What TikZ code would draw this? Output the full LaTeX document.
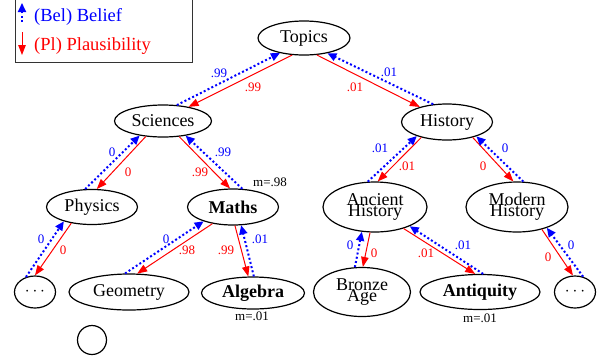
\documentclass[tikz,border=0pt]{standalone}
\usepackage{fontspec}
\setmainfont{Liberation Serif}
\usetikzlibrary{arrows.meta,shapes.geometric}
\definecolor{belblue}{RGB}{0,0,255}
\definecolor{plred}{RGB}{255,0,0}
\tikzset{
  nd/.style={ellipse,draw,line width=1.2pt,inner sep=0pt,font=\fontsize{18}{12}\selectfont,align=center},
  bel/.style={draw=belblue,line width=2pt,dash pattern=on 2pt off 2.3pt,-{Triangle[length=9pt,width=8pt,fill=belblue]}},
  pl/.style={draw=plred,line width=1pt,-{Triangle[length=10pt,width=7.5pt,fill=plred]}},
  bl/.style={text=belblue,font=\fontsize{13}{13}\selectfont,inner sep=0pt},
  rl/.style={text=plred,font=\fontsize{13}{13}\selectfont,inner sep=0pt},
  ml/.style={text=black,font=\fontsize{13}{13}\selectfont,inner sep=0pt}
}
\begin{document}
\begin{tikzpicture}[x=1pt,y=-1pt]
\useasboundingbox (0,0) rectangle (607,360);
% legend
\draw[line width=0.8pt,black!80] (15,-5) rectangle (192,62);
\coordinate (lb1) at (22,22); \coordinate (lb2) at (22,3);
\coordinate (lr1) at (22,32); \coordinate (lr2) at (22,55);
\draw[bel] (lb1) -- (lb2);
\draw[pl] (lr1) -- (lr2);
\node[anchor=west,text=belblue,font=\fontsize{18.5}{18.5}\selectfont,inner sep=0pt] (legb) at (34,17) {(Bel) Belief};
\node[anchor=west,text=plred,font=\fontsize{18.5}{18.5}\selectfont,inner sep=0pt] (legr) at (34,46) {(Pl) Plausibility};
% nodes
\node[nd,minimum width=92pt,minimum height=34pt] (top) at (304,38) {Topics};
\node[nd,minimum width=97pt,minimum height=32pt] (sci) at (163,121) {Sciences};
\node[nd,minimum width=91pt,minimum height=36pt] (his) at (447,122) {History};
\node[nd,minimum width=91pt,minimum height=35pt] (phy) at (92,207) {Physics};
\node[nd,minimum width=91pt,minimum height=36pt] (mat) at (233,207) {\textbf{Maths}};
\node[nd,minimum width=104pt,minimum height=50pt] (anc) at (375,207) {Ancient\\[-2pt]History};
\node[nd,minimum width=102pt,minimum height=50pt] (mod) at (517,207) {Modern\\[-2pt]History};
\node[nd,minimum width=41pt,minimum height=32pt] (ld) at (35,292) {$\cdots$};
\node[nd,minimum width=120pt,minimum height=36pt] (geo) at (129,292) {Geometry};
\node[nd,minimum width=103pt,minimum height=32pt] (alg) at (253,293) {\textbf{Algebra}};
\node[nd,minimum width=97pt,minimum height=49pt] (bro) at (362,292) {Bronze\\[-2pt]Age};
\node[nd,minimum width=120pt,minimum height=35pt] (ant) at (480,292) {\textbf{Antiquity}};
\node[nd,minimum width=41pt,minimum height=32pt] (rd) at (575,292) {$\cdots$};
\node[circle,draw,line width=1.2pt,minimum size=29pt,inner sep=0pt] (circ) at (92,340) {};
% mass labels
\node[ml] (m1) at (270,182) {m=.98};
\node[ml] (m2) at (252,316) {m=.01};
\node[ml] (m3) at (480,318) {m=.01};
% edges
\draw[bel] (sci.49) -- (top.212);
\draw[pl] (top.235) -- (sci.29);
\node[bl] at (219,73) {.99}; \node[rl] at (253,87) {.99};

\draw[pl] (top.307) -- (his.151);
\draw[bel] (his.128) -- (top.327);
\node[bl] at (389,72) {.01}; \node[rl] at (355,87) {.01};

\draw[bel] (phy.111) -- (sci.212);
\draw[pl] (sci.222) -- (phy.75);
\node[bl] at (112,152) {0}; \node[rl] at (128,172) {0};

\draw[pl] (sci.316) -- (mat.99);
\draw[bel] (mat.63) -- (sci.327);
\node[bl] at (223,152) {.99}; \node[rl] at (200,172) {.99};

\draw[bel] (anc.106) -- (his.205);
\draw[pl] (his.211) -- (anc.84);
\node[bl] at (380,148) {.01}; \node[rl] at (407,166) {.01};

\draw[pl] (his.329) -- (mod.98);
\draw[bel] (mod.76) -- (his.334);
\node[bl] at (505,148) {0}; \node[rl] at (483,166) {0};

\draw[bel] (ld.121) -- (phy.207);
\draw[pl] (phy.218) -- (ld.90);
\node[bl] at (41,239) {0}; \node[rl] at (63,250) {0};

\draw[bel] (geo.102) -- (mat.206);
\draw[pl] (mat.219) -- (geo.66);
\node[bl] at (166,239) {0}; \node[rl] at (187,250) {.98};

\draw[pl] (mat.276) -- (alg.106);
\draw[bel] (alg.87) -- (mat.294);
\node[bl] at (260,239) {.01}; \node[rl] at (226,250) {.99};

\draw[bel] (bro.106) -- (anc.242);
\draw[pl] (anc.259) -- (bro.88);
\node[bl] at (350,245) {0}; \node[rl] at (374,253) {0};

\draw[pl] (anc.323) -- (ant.105);
\draw[bel] (ant.80) -- (anc.331);
\node[bl] at (463,245) {.01}; \node[rl] at (426,253) {.01};

\draw[pl] (mod.318) -- (rd.97);
\draw[bel] (rd.62) -- (mod.325);
\node[bl] at (571,245) {0}; \node[rl] at (548,257) {0};
\end{tikzpicture}
\end{document}
